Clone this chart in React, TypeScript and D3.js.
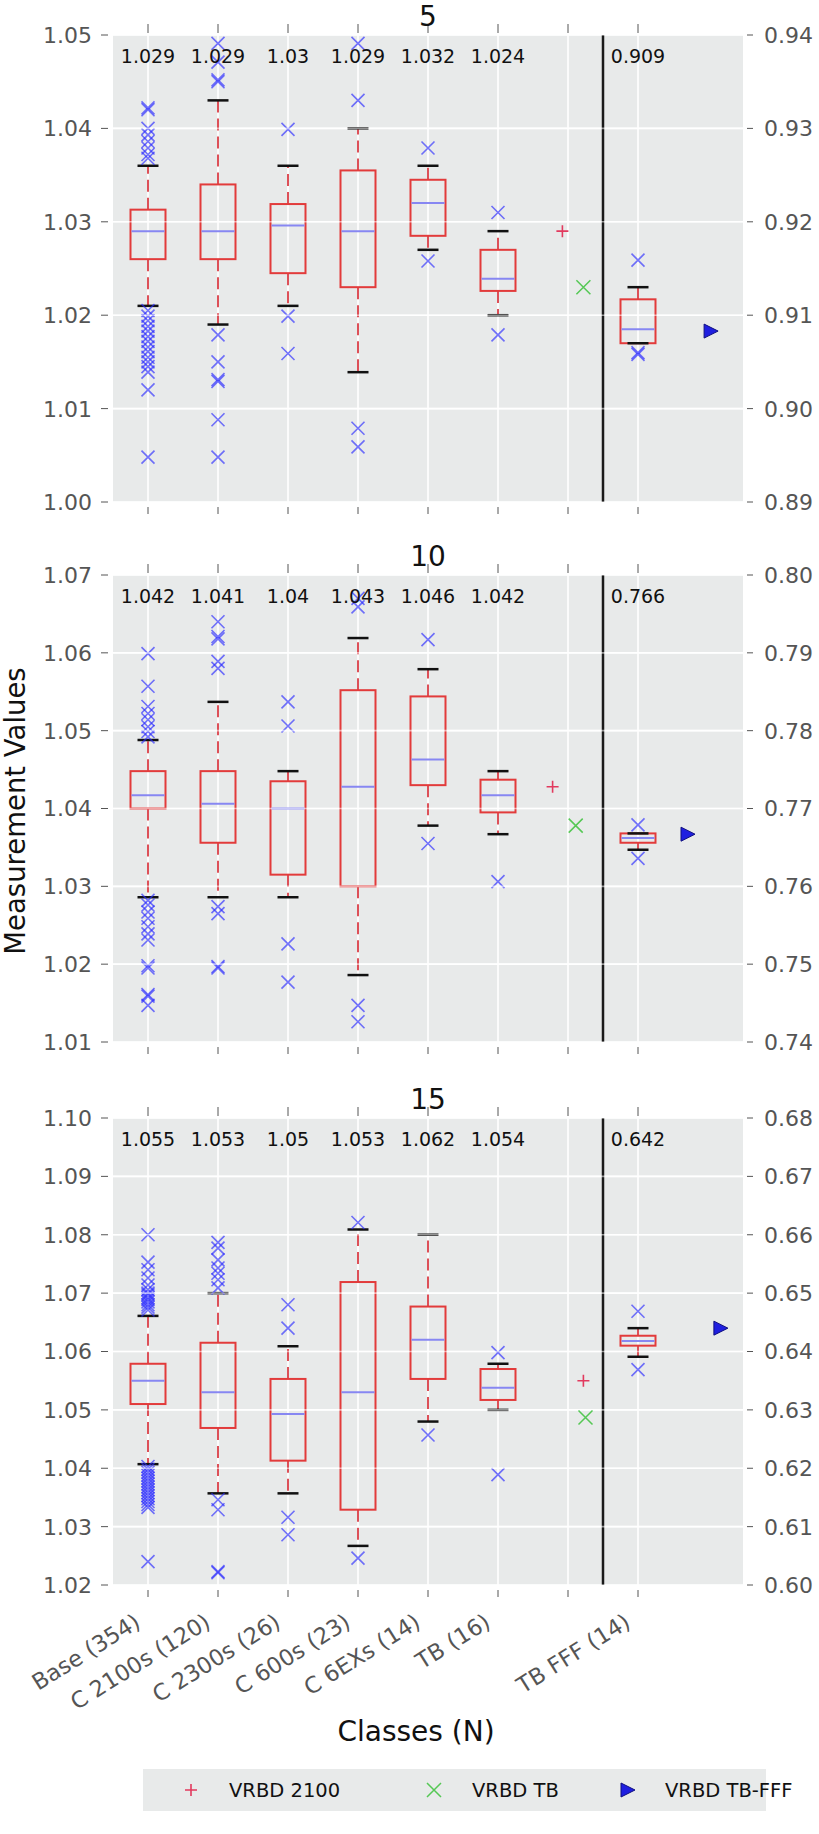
import React, { useEffect, useRef } from 'react';
import * as d3 from 'd3';

const categories = ['Base (354)', 'C 2100s (120)', 'C 2300s (26)', 'C 600s (23)', 'C 6EXs (14)', 'TB (16)', '', 'TB FFF (14)'];
const panelTitles = ['5', '10', '15'];
const leftDomains = [[1.0, 1.05], [1.01, 1.07], [1.02, 1.1]];
const rightDomains = [[0.89, 0.94], [0.74, 0.8], [0.6, 0.68]];
// index of the class drawn against the right axis
const rightAxisClass = 7;

// [lower cap, q1, median, q3, upper cap] per class
const boxes5 = [
  [1.021, 1.026, 1.029, 1.0313, 1.036],
  [1.019, 1.026, 1.029, 1.034, 1.043],
  [1.021, 1.0245, 1.0296, 1.0319, 1.036],
  [1.0139, 1.023, 1.029, 1.0355, 1.04],
  [1.027, 1.0285, 1.032, 1.0345, 1.036],
  [1.02, 1.0226, 1.0239, 1.027, 1.029],
  null,
  [0.907, 0.907, 0.9085, 0.9117, 0.913],
];
const boxes10 = [
  [1.0286, 1.04, 1.0417, 1.0448, 1.0488],
  [1.0286, 1.0356, 1.0406, 1.0448, 1.0537],
  [1.0286, 1.0315, 1.04, 1.0435, 1.0448],
  [1.0186, 1.03, 1.0428, 1.0552, 1.0619],
  [1.0378, 1.043, 1.0463, 1.0544, 1.0579],
  [1.0367, 1.0395, 1.0417, 1.0437, 1.0448],
  null,
  [0.7647, 0.7656, 0.7662, 0.7668, 0.7668],
];
const boxes15 = [
  [1.0407, 1.051, 1.055, 1.0579, 1.0661],
  [1.0357, 1.0469, 1.053, 1.0615, 1.07],
  [1.0357, 1.0413, 1.0493, 1.0553, 1.0609],
  [1.0267, 1.0329, 1.053, 1.0719, 1.0809],
  [1.048, 1.0553, 1.062, 1.0677, 1.08],
  [1.05, 1.0517, 1.0538, 1.057, 1.0579],
  null,
  [0.6391, 0.641, 0.6418, 0.6427, 0.644],
];

// outliers per class
const fliers5 = [
  [1.0422, 1.042, 1.04, 1.0393, 1.0386, 1.0379, 1.0372, 1.0368,
    1.0205, 1.0199, 1.0194, 1.0188, 1.0183, 1.0177, 1.0172, 1.0166, 1.0161, 1.0155, 1.015, 1.0145, 1.0139, 1.012, 1.0048],
  [1.0491, 1.0471, 1.0452, 1.045, 1.0179, 1.015, 1.0131, 1.0129, 1.0088, 1.0048],
  [1.0399, 1.0199, 1.0159],
  [1.0491, 1.043, 1.0079, 1.0059],
  [1.0379, 1.0258],
  [1.031, 1.0179],
  [],
  [0.9159, 0.906, 0.9058],
];
const fliers10 = [
  [1.0599, 1.0557, 1.0531, 1.0522, 1.0514, 1.0505, 1.0499, 1.0492,
    1.0282, 1.0276, 1.0267, 1.0259, 1.0248, 1.0239, 1.0231, 1.0198, 1.0195, 1.0161, 1.0159, 1.0147],
  [1.064, 1.0621, 1.0618, 1.0589, 1.058, 1.0274, 1.0265, 1.0197, 1.0195],
  [1.0537, 1.0506, 1.0226, 1.0177],
  [1.067, 1.0659, 1.0147, 1.0126],
  [1.0617, 1.0355],
  [1.0306],
  [],
  [0.7679, 0.7636],
];
const fliers15 = [
  [1.08, 1.0753, 1.074, 1.0726, 1.0714, 1.0706, 1.07, 1.0697, 1.0692, 1.0689, 1.0685, 1.068, 1.0676, 1.0671,
    1.0403, 1.0398, 1.0393, 1.0388, 1.0383, 1.0378, 1.0373, 1.0368, 1.0363, 1.0358, 1.0353, 1.0348, 1.0343, 1.0338, 1.0333, 1.024],
  [1.0787, 1.0777, 1.0757, 1.0743, 1.0734, 1.0723, 1.0709, 1.0346, 1.0329, 1.0223, 1.0221],
  [1.068, 1.064, 1.0316, 1.0286],
  [1.0821, 1.0246],
  [1.0457],
  [1.0598, 1.0389],
  [],
  [0.6469, 0.6369],
];

const medianLabels5 = ['1.029', '1.029', '1.03', '1.029', '1.032', '1.024', '', '0.909'];
const medianLabels10 = ['1.042', '1.041', '1.04', '1.043', '1.046', '1.042', '', '0.766'];
const medianLabels15 = ['1.055', '1.053', '1.05', '1.053', '1.062', '1.054', '', '0.642'];

// reference points: [x position, value]
const vrbd2100 = [[6.92, 1.029], [6.78, 1.0428], [7.22, 1.055]];
const vrbdTB = [[7.22, 1.023], [7.11, 1.0378], [7.25, 1.0487]];
const vrbdTBFFF = [[9.03, 0.9083], [8.7, 0.7667], [9.17, 0.644]]; // right axis

const legendItems = ['VRBD 2100', 'VRBD TB', 'VRBD TB-FFF'];

const boxes = [boxes5, boxes10, boxes15];
const fliers = [fliers5, fliers10, fliers15];
const medianLabels = [medianLabels5, medianLabels10, medianLabels15];

const FONT = 'DejaVu Sans, sans-serif';
const RED = '#e23b3b';
const WHISK = '#dd5058';
const MED = '#8787f2';
const FLIER = '#2b2bff';
const PLUS = '#e23a5e';
const GREEN = '#55c855';
const TRI = '#1f1fe0';
const BG = '#e8eaea';
const TICK = '#555';

const xMark = (s) => `M${-s},${-s}L${s},${s}M${-s},${s}L${s},${-s}`;
const plusMark = (s) => `M${-s},0L${s},0M0,${-s}L0,${s}`;

const App = () => {
  const ref = useRef(null);
  const width = 819;
  const height = 1834;

  useEffect(() => {
    const svg = d3.select(ref.current);
    svg.selectAll('*').remove();

    const left = 113, right = 743;
    const tops = [35, 575, 1118];
    const plotH = 467;

    const x = d3.scaleLinear().domain([0.5, 9.5]).range([left, right]);
    const positions = d3.range(1, categories.length + 1);

    tops.forEach((top, i) => {
      const bottom = top + plotH;
      const yL = d3.scaleLinear().domain(leftDomains[i]).range([bottom, top]);
      const yR = d3.scaleLinear().domain(rightDomains[i]).range([bottom, top]);
      const nL = Math.round((leftDomains[i][1] - leftDomains[i][0]) / 0.01);
      const nR = Math.round((rightDomains[i][1] - rightDomains[i][0]) / 0.01);
      const g = svg.append('g');

      g.append('rect')
        .attr('x', left).attr('y', top)
        .attr('width', right - left).attr('height', plotH)
        .attr('fill', BG);

      // grid
      const hgrid = (sel, op) => sel.selectAll(null).data(yL.ticks(nL)).enter().append('line')
        .attr('x1', left).attr('x2', right)
        .attr('y1', d => yL(d)).attr('y2', d => yL(d))
        .attr('stroke', '#fff').attr('stroke-width', 1.6).attr('stroke-opacity', op);
      hgrid(g, 1);
      g.selectAll(null).data(positions).enter().append('line')
        .attr('x1', d => x(d)).attr('x2', d => x(d))
        .attr('y1', top).attr('y2', bottom)
        .attr('stroke', '#fff').attr('stroke-width', 1.6);

      // left axis
      yL.ticks(nL).forEach(t => {
        g.append('line').attr('x1', left - 12).attr('x2', left - 5)
          .attr('y1', yL(t)).attr('y2', yL(t)).attr('stroke', TICK).attr('stroke-width', 1);
        g.append('text').attr('x', left - 21).attr('y', yL(t)).attr('dy', '0.36em')
          .attr('text-anchor', 'end').attr('font-family', FONT).attr('font-size', 22)
          .attr('fill', TICK).text(t.toFixed(2));
      });
      // right axis
      yR.ticks(nR).forEach(t => {
        g.append('line').attr('x1', right + 4).attr('x2', right + 10)
          .attr('y1', yR(t)).attr('y2', yR(t)).attr('stroke', TICK).attr('stroke-width', 1);
        g.append('text').attr('x', right + 21).attr('y', yR(t)).attr('dy', '0.36em')
          .attr('text-anchor', 'start').attr('font-family', FONT).attr('font-size', 22)
          .attr('fill', TICK).text(t.toFixed(2));
      });
      // top/bottom tick marks
      positions.forEach(p => {
        g.append('line').attr('x1', x(p)).attr('x2', x(p))
          .attr('y1', top - 11).attr('y2', top - 2).attr('stroke', TICK).attr('stroke-width', 1);
        g.append('line').attr('x1', x(p)).attr('x2', x(p))
          .attr('y1', bottom + 5).attr('y2', bottom + 12).attr('stroke', TICK).attr('stroke-width', 1);
      });

      // separator
      g.append('line').attr('x1', x(7.5)).attr('x2', x(7.5))
        .attr('y1', top).attr('y2', bottom)
        .attr('stroke', '#1a1a1a').attr('stroke-width', 2.5);

      // boxes
      boxes[i].forEach((b, c) => {
        if (!b) return;
        const y = c === rightAxisClass ? yR : yL;
        const cx = x(c + 1);
        const bw = 35, cw = 21;
        const [lo, q1, med, q3, hi] = b;
        g.append('line').attr('x1', cx).attr('x2', cx).attr('y1', y(q3)).attr('y2', y(hi))
          .attr('stroke', WHISK).attr('stroke-width', 2).attr('stroke-dasharray', '12 6');
        g.append('line').attr('x1', cx).attr('x2', cx).attr('y1', y(q1)).attr('y2', y(lo))
          .attr('stroke', WHISK).attr('stroke-width', 2).attr('stroke-dasharray', '12 6');
        g.append('rect').attr('x', cx - bw / 2).attr('y', y(q3))
          .attr('width', bw).attr('height', Math.max(1, y(q1) - y(q3)))
          .attr('fill', 'none').attr('stroke', RED).attr('stroke-width', 2);
        g.append('line').attr('x1', cx - bw / 2 + 1).attr('x2', cx + bw / 2 - 1)
          .attr('y1', y(med)).attr('y2', y(med)).attr('stroke', MED).attr('stroke-width', 2);
        [lo, hi].forEach(v => {
          g.append('line').attr('x1', cx - cw / 2).attr('x2', cx + cw / 2)
            .attr('y1', y(v)).attr('y2', y(v)).attr('stroke', '#111').attr('stroke-width', 2.5);
        });
      });

      // outliers
      fliers[i].forEach((vals, c) => {
        const y = c === rightAxisClass ? yR : yL;
        g.selectAll(null).data(vals).enter().append('path')
          .attr('d', xMark(6.5))
          .attr('transform', v => `translate(${x(c + 1)},${y(v)})`)
          .attr('fill', 'none').attr('stroke', FLIER).attr('stroke-width', 1.6)
          .attr('stroke-opacity', 0.65);
      });

      // horizontal grid shows faintly through the marks
      hgrid(g, 0.55);

      // reference points
      g.append('path').attr('d', plusMark(6))
        .attr('transform', `translate(${x(vrbd2100[i][0])},${yL(vrbd2100[i][1])})`)
        .attr('stroke', PLUS).attr('stroke-width', 1.6).attr('fill', 'none');
      g.append('path').attr('d', xMark(7))
        .attr('transform', `translate(${x(vrbdTB[i][0])},${yL(vrbdTB[i][1])})`)
        .attr('stroke', GREEN).attr('stroke-width', 1.5).attr('fill', 'none');
      g.append('path').attr('d', 'M-6,-7L8,0L-6,7Z')
        .attr('transform', `translate(${x(vrbdTBFFF[i][0])},${yR(vrbdTBFFF[i][1])})`)
        .attr('fill', TRI).attr('stroke', '#101080').attr('stroke-width', 1);

      // median annotations
      medianLabels[i].forEach((lab, c) => {
        if (!lab) return;
        g.append('text').attr('x', x(c + 1)).attr('y', top + 28)
          .attr('text-anchor', 'middle').attr('font-family', FONT).attr('font-size', 19)
          .attr('fill', '#111').text(lab);
      });

      // title
      g.append('text').attr('x', (left + right) / 2).attr('y', top - 9)
        .attr('text-anchor', 'middle').attr('font-family', FONT).attr('font-size', 28)
        .attr('fill', '#111').text(panelTitles[i]);

      // category labels on the last panel
      if (i === tops.length - 1) {
        categories.forEach((lab, c) => {
          if (!lab) return;
          g.append('text')
            .attr('transform', `translate(${x(c + 1) - 6},${bottom + 41}) rotate(-32)`)
            .attr('text-anchor', 'end').attr('font-family', FONT).attr('font-size', 22.5)
            .attr('fill', TICK).text(lab);
        });
      }
    });

    // axis titles
    svg.append('text').attr('transform', 'translate(25,811) rotate(-90)')
      .attr('text-anchor', 'middle').attr('font-family', FONT).attr('font-size', 27.5)
      .attr('fill', '#111').text('Measurement Values');
    svg.append('text').attr('x', 416).attr('y', 1741)
      .attr('text-anchor', 'middle').attr('font-family', FONT).attr('font-size', 28)
      .attr('fill', '#111').text('Classes (N)');

    // legend
    const ly = 1790;
    const lg = svg.append('g');
    lg.append('rect').attr('x', 143).attr('y', ly - 21).attr('width', 623).attr('height', 42).attr('fill', BG);
    const itemX = [191, 434, 627];
    lg.append('path').attr('d', plusMark(6)).attr('transform', `translate(${itemX[0]},${ly})`)
      .attr('stroke', PLUS).attr('stroke-width', 1.6);
    lg.append('path').attr('d', xMark(7)).attr('transform', `translate(${itemX[1]},${ly})`)
      .attr('stroke', GREEN).attr('stroke-width', 1.5);
    lg.append('path').attr('d', 'M-6,-7L8,0L-6,7Z').attr('transform', `translate(${itemX[2]},${ly})`)
      .attr('fill', TRI).attr('stroke', '#101080').attr('stroke-width', 1);
    legendItems.forEach((t, k) => {
      lg.append('text').attr('x', itemX[k] + 38).attr('y', ly + 7)
        .attr('font-family', FONT).attr('font-size', 19.5).attr('fill', '#111').text(t);
    });
  }, []);

  return (
    <svg ref={ref} width={width} height={height} viewBox={`0 0 ${width} ${height}`}
      style={{ position: 'absolute', left: 0, top: 0, background: '#fff' }} />
  );
};

export default App;
